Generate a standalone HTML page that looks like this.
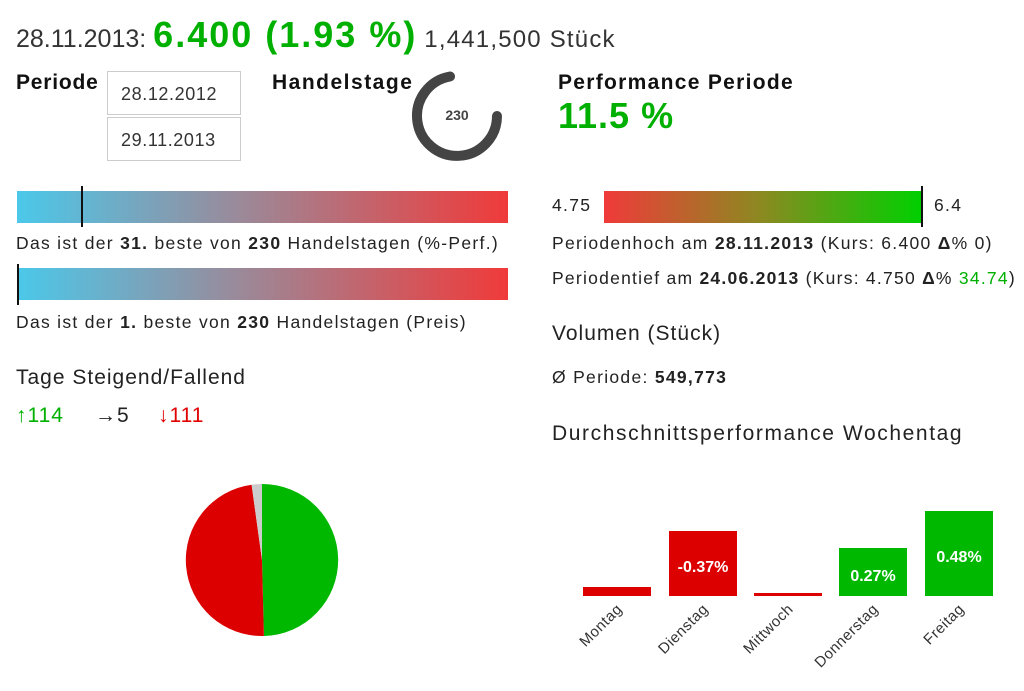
<!DOCTYPE html>
<html><head><meta charset="utf-8"><style>
body{margin:0;width:1024px;height:691px;background:#fff;position:relative;font-family:"Liberation Sans",sans-serif;color:#222;overflow:hidden}
.a{position:absolute;white-space:nowrap}
.g{color:#00b000}.r{color:#e00000}
.t{font-size:17.5px;letter-spacing:1.3px}
.h{font-size:21px;letter-spacing:1px}
.box{position:absolute;left:107px;width:134px;height:44px;border:1px solid #ccc;box-sizing:border-box;font-size:18px;letter-spacing:0.6px;line-height:44px;padding-left:13px;color:#333}
.bar{position:absolute;height:32px;background:linear-gradient(to right,#4bc8ea,#9a8a9a 45%,#f03a3a)}
.mk{position:absolute;width:2px;background:#111}
</style></head><body>
<div class="a" style="left:16px;top:14px;font-size:25px;color:#333">28.11.2013: <b class="g" style="font-size:36px;letter-spacing:2px">6.400 (1.93 %)</b> <span style="font-size:24px;letter-spacing:1.2px">1,441,500 Stück</span></div>
<div class="a" style="left:16px;top:71px;font-size:21px;letter-spacing:0.8px;font-weight:bold;color:#111">Periode</div>
<div class="box" style="top:71px">28.12.2012</div>
<div class="box" style="top:117px">29.11.2013</div>
<div class="a" style="left:272px;top:71px;font-size:21px;letter-spacing:1.5px;font-weight:bold;color:#111">Handelstage</div>
<svg class="a" style="left:410px;top:70px" width="96" height="96"><path d="M 87 46 A 40 40 0 1 1 40 6.5" fill="none" stroke="#444" stroke-width="10" stroke-linecap="round"/><text x="47" y="50" text-anchor="middle" font-size="14" font-weight="bold" fill="#444" font-family="Liberation Sans">230</text></svg>
<div class="a" style="left:558px;top:71px;font-size:21px;letter-spacing:1.3px;font-weight:bold;color:#111">Performance Periode</div>
<div class="a g" style="left:558px;top:95px;font-size:36px;letter-spacing:1px;font-weight:bold">11.5 %</div>

<div class="bar" style="left:17px;top:191px;width:491px"></div><div class="mk" style="left:81px;top:186px;height:41px"></div>
<div class="a t" style="left:16px;top:233px">Das ist der <b>31.</b> beste von <b>230</b> Handelstagen (%-Perf.)</div>
<div class="bar" style="left:17px;top:268px;width:491px"></div><div class="mk" style="left:17px;top:264px;height:41px"></div>
<div class="a t" style="left:16px;top:312px">Das ist der <b>1.</b> beste von <b>230</b> Handelstagen (Preis)</div>
<div class="a h" style="left:16px;top:366px">Tage Steigend/Fallend</div>
<div class="a h g" style="left:16px;top:404px">↑114</div>
<div class="a h" style="left:95px;top:404px">→5</div>
<div class="a h r" style="left:158px;top:404px">↓111</div>

<div class="a t" style="left:552px;top:195px">4.75</div>
<div class="a" style="left:604px;top:191px;width:318px;height:32px;background:linear-gradient(to right,#f03a3a,#8a8a20 50%,#00d000)"></div>
<div class="mk" style="left:921px;top:186px;height:41px"></div>
<div class="a t" style="left:934px;top:195px">6.4</div>
<div class="a t" style="left:552px;top:233px">Periodenhoch am <b>28.11.2013</b> (Kurs: 6.400 <b>Δ</b>% 0)</div>
<div class="a t" style="left:552px;top:268px;letter-spacing:1.25px">Periodentief am <b>24.06.2013</b> (Kurs: 4.750 <b>Δ</b>% <span class="g">34.74</span>)</div>
<div class="a h" style="left:552px;top:322px">Volumen (Stück)</div>
<div class="a t" style="left:552px;top:367px">Ø Periode: <b>549,773</b></div>
<div class="a" style="left:552px;top:422px;font-size:21px;letter-spacing:1.6px">Durchschnittsperformance Wochentag</div>

<svg class="a" style="left:0;top:0" width="1024" height="691">
<g transform="translate(262,560)">
<path d="M0,0 L0,-76 A76 76 0 0 1 1.9,75.98 Z" fill="#00b800"/>
<path d="M0,0 L1.9,75.98 A76 76 0 0 1 -10.4,-75.3 Z" fill="#dd0000"/>
<path d="M0,0 L-10.4,-75.3 A76 76 0 0 1 0,-76 Z" fill="#ccc"/>
</g>
<rect x="583" y="587" width="68" height="9" fill="#dd0000"/>
<rect x="669" y="531" width="68" height="65" fill="#dd0000"/>
<rect x="754" y="593" width="68" height="3" fill="#dd0000"/>
<rect x="839" y="548" width="68" height="48" fill="#00b800"/>
<rect x="925" y="511" width="68" height="85" fill="#00b800"/>
<g font-family="Liberation Sans" font-size="16" fill="#fff" font-weight="bold" text-anchor="middle">
<text x="703" y="572">-0.37%</text><text x="873" y="581">0.27%</text><text x="959" y="562">0.48%</text></g>
<g font-family="Liberation Sans" font-size="15" fill="#333" text-anchor="end" letter-spacing="0.5">
<text transform="translate(623,610) rotate(-45)">Montag</text>
<text transform="translate(709,610) rotate(-45)">Dienstag</text>
<text transform="translate(794,610) rotate(-45)">Mittwoch</text>
<text transform="translate(879,610) rotate(-45)">Donnerstag</text>
<text transform="translate(965,610) rotate(-45)">Freitag</text>
</g>
</svg>
</body></html>
